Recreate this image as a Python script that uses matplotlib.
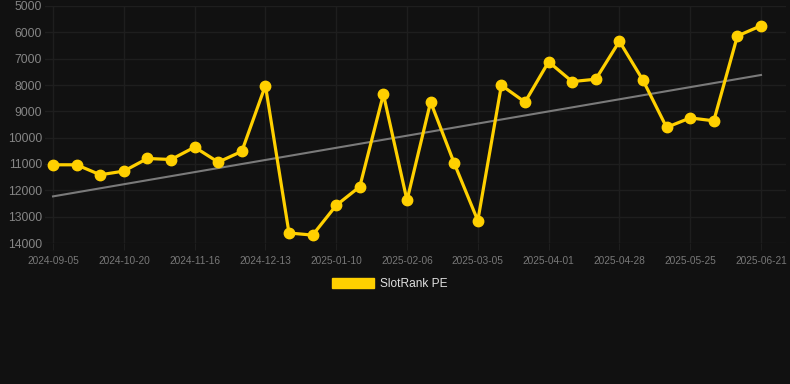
import numpy as np
import matplotlib
matplotlib.use("Agg")
import matplotlib.pyplot as plt
from matplotlib.patches import Patch

# values (31 points, every 3rd one labelled)
tick_labels = ["2024-09-05", "2024-10-20", "2024-11-16", "2024-12-13", "2025-01-10",
               "2025-02-06", "2025-03-05", "2025-04-01", "2025-04-28", "2025-05-25",
               "2025-06-21"]
pe_values = [11030, 11030, 11410, 11270, 10790, 10830, 10360, 10930, 10520, 8020,
             13620, 13700, 12570, 11860, 8350, 12380, 8640, 10970, 13150, 8010,
             8650, 7120, 7870, 7780, 6340, 7820, 9610, 9250, 9360, 6140, 5750]
# trend line values at the first and last point
trend_ends = [12230, 7620]

bg = "#111111"
grid_c = "#1e1e1e"
gold = "#ffd000"

plt.rcParams['font.family'] = ['Liberation Sans', 'DejaVu Sans']

fig = plt.figure(figsize=(7.9, 3.84), dpi=100, facecolor=bg)
ax = fig.add_axes([45 / 790, 1 - 243 / 384, (786 - 45) / 790, (243 - 6) / 384])
ax.set_facecolor(bg)

x = np.arange(len(pe_values))
y = np.array(pe_values)

ax.plot([x[0], x[-1]], trend_ends, color="#7a7a7a", lw=1.5, zorder=2)
ax.plot(x, y, color=gold, lw=2.3, marker="o", ms=7.5, zorder=3)

ax.set_ylim(14000, 5000)
ax.set_yticks(np.arange(5000, 14001, 1000))
ax.set_xlim(-0.34, 31.06)
ax.set_xticks(x[::3])
ax.set_xticklabels(tick_labels)

ax.grid(True, color=grid_c, lw=1)
for s in ax.spines.values():
    s.set_visible(False)
ax.tick_params(axis="y", length=0, pad=2, labelsize=8.7, labelcolor="#858585")
ax.tick_params(axis="x", length=5, color=grid_c, pad=4, labelsize=7.3, labelcolor="#787878")

handle = Patch(facecolor=gold, edgecolor=gold)
fig.legend([handle], ["SlotRank PE"], loc="center", bbox_to_anchor=(390 / 790, 1 - 284 / 384),
           frameon=False, fontsize=8.6, labelcolor="#e0e0e0", handlelength=3.5,
           handleheight=0.9, handletextpad=0.5)

fig.savefig("out.png", dpi=100, facecolor=bg)
